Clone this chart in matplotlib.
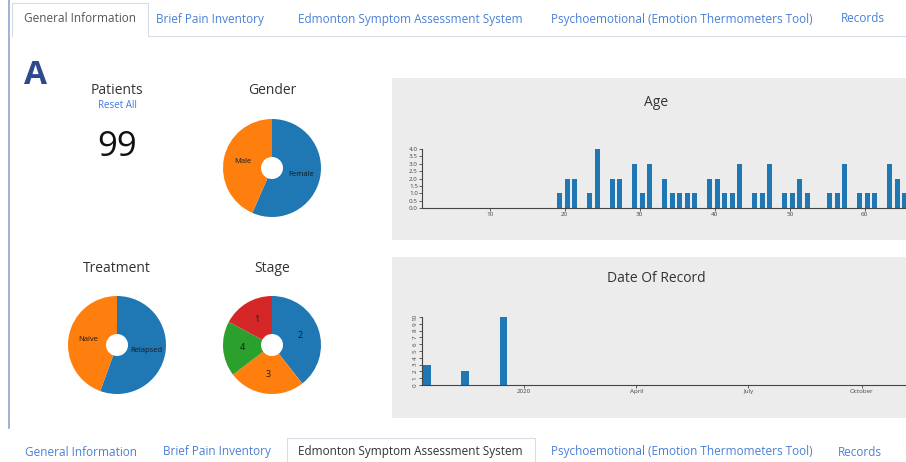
import matplotlib
matplotlib.use('Agg')
import matplotlib.pyplot as plt
from matplotlib.patches import Rectangle
from matplotlib.lines import Line2D
import datetime

plt.rcParams['font.family'] = ['Open Sans', 'DejaVu Sans']

# data
tabs = ['General Information', 'Brief Pain Inventory', 'Edmonton Symptom Assessment System',
        'Psychoemotional (Emotion Thermometers Tool)', 'Records']
patients = 99
gender_labels = ['Female', 'Male']
gender_counts = [56, 43]
treatment_labels = ['Relapsed', 'Naive']
treatment_counts = [55, 44]
stage_labels = ['2', '3', '4', '1']
stage_counts = [39, 25, 18, 17]
ages = [19, 20, 21, 23, 24, 26, 27, 29, 30, 31, 33, 34, 35, 36, 37, 39, 40, 41, 42, 43,
        45, 46, 47, 49, 50, 51, 52, 55, 56, 57, 59, 60, 61, 63, 64, 65]
age_counts = [1, 2, 2, 1, 4, 2, 2, 3, 1, 3, 2, 1, 1, 1, 1, 2, 2, 1, 1, 3,
              1, 1, 3, 1, 1, 2, 1, 1, 1, 3, 1, 1, 1, 3, 2, 1]
record_dates = ['2019-10-11', '2019-11-11', '2019-12-12']
record_counts = [3, 2, 10]
date_ticks = ['2020-01-01', '2020-04-01', '2020-07-01', '2020-10-01']
date_tick_labels = ['2020', 'April', 'July', 'October']

W, H = 906, 462
BLUE = '#1f77b4'
ORANGE = '#ff7f0e'
GREEN = '#2ca02c'
RED = '#d62728'
TAB_BLUE = '#4a80d6'
TXT = '#333333'


def box(x0, y0, x1, y1):
    return [x0 / W, 1 - y1 / H, (x1 - x0) / W, (y1 - y0) / H]


def txt(x, y, s, **kw):
    fig.text(x / W, 1 - y / H, s, ha='center', va='center', **kw)


def line(xs, ys, c='#d8dce4', lw=0.8):
    fig.add_artist(Line2D([x / W for x in xs], [1 - y / H for y in ys], color=c, lw=lw,
                          transform=fig.transFigure, zorder=-1))


fig = plt.figure(figsize=(W / 100, H / 100), dpi=100)
fig.patch.set_facecolor('white')

# tabs top and bottom
top_x = [80, 210, 410, 682, 863]
for i, t in enumerate(tabs):
    txt(top_x[i], 19, t, fontsize=8.5, color='#555555' if i == 0 else TAB_BLUE)
line([12, 12, 148, 148], [36, 3, 3, 36])
line([148, 906], [36, 36])
line([9, 9], [0, 428], c='#8fa6cc', lw=1.2)
bot_x = [81, 217, 410, 682, 860]
for i, t in enumerate(tabs):
    txt(bot_x[i], 452, t, fontsize=8.5, color='#333333' if i == 2 else TAB_BLUE)
line([287, 287, 535, 535], [462, 438, 438, 462])

# chart panels
for y0, y1 in [(78, 240), (257, 418)]:
    fig.add_artist(Rectangle((392 / W, 1 - y1 / H), (W - 392) / W, (y1 - y0) / H,
                             transform=fig.transFigure, facecolor='#ececec',
                             edgecolor='none', zorder=-2))

txt(35, 76, 'A', fontsize=24, fontweight='bold', color='#2e4a8e')
txt(117, 90, 'Patients', fontsize=10, color=TXT)
txt(117, 106, 'Reset All', fontsize=7, color='#3b78e7')
txt(117, 147, str(patients), fontsize=25, color='#111111')
txt(272, 90, 'Gender', fontsize=10, color=TXT)
txt(117, 268, 'Treatment', fontsize=10, color=TXT)
txt(272, 268, 'Stage', fontsize=10, color=TXT)
txt(656, 103, 'Age', fontsize=10, color=TXT)
txt(656, 279, 'Date Of Record', fontsize=10, color=TXT)


def donut(cx, cy, vals, labels, colors, fs):
    r = 49
    ax = fig.add_axes(box(cx - r, cy - r, cx + r, cy + r))
    wedges, texts = ax.pie(vals, labels=labels, colors=colors, startangle=90,
                           counterclock=False, radius=1, labeldistance=0.6,
                           wedgeprops=dict(width=1 - 11 / 49, edgecolor='none'),
                           textprops=dict(fontsize=fs, color='#1a1a1a'))
    for t in texts:
        t.set_ha('center')
        t.set_va('center')
    ax.set_xlim(-1, 1)
    ax.set_ylim(-1, 1)
    ax.set_aspect('equal')


donut(272, 168, gender_counts, gender_labels, [BLUE, ORANGE], 5.5)
donut(117, 345, treatment_counts, treatment_labels, [BLUE, ORANGE], 5.5)
donut(272, 345, stage_counts, stage_labels, [BLUE, ORANGE, GREEN, RED], 6.5)


def style(ax):
    ax.patch.set_alpha(0)
    for s in ['top', 'right']:
        ax.spines[s].set_visible(False)
    for s in ['left', 'bottom']:
        ax.spines[s].set_color('#444444')
        ax.spines[s].set_linewidth(0.8)
    ax.tick_params(labelsize=4.5, colors='#444444', length=2, width=0.6, pad=1)


# age histogram
ax1 = fig.add_axes(box(422, 149, 906, 208))
ax1.bar(ages, age_counts, width=0.68, align='edge', color=BLUE)
ax1.set_xlim(1, 65.5)
ax1.set_ylim(0, 4)
ax1.set_yticks([i * 0.5 for i in range(9)])
ax1.yaxis.set_major_formatter(matplotlib.ticker.FormatStrFormatter('%.1f'))
ax1.set_xticks([10, 20, 30, 40, 50, 60])
style(ax1)

# date of record
d = [datetime.datetime.strptime(s, '%Y-%m-%d') for s in record_dates]
ax2 = fig.add_axes(box(422, 317, 906, 385))
ax2.bar(d, record_counts, width=6, align='edge', color=BLUE)
ax2.set_xlim(datetime.datetime(2019, 10, 10), datetime.datetime(2020, 11, 6))
ax2.set_ylim(0, 10)
ax2.set_yticks(range(11))
ax2.set_xticks([datetime.datetime.strptime(s, '%Y-%m-%d') for s in date_ticks])
ax2.set_xticklabels(date_tick_labels)
for lab in ax2.get_yticklabels():
    lab.set_rotation(90)
    lab.set_va('center')
style(ax2)

fig.savefig('out.png', dpi=100)
